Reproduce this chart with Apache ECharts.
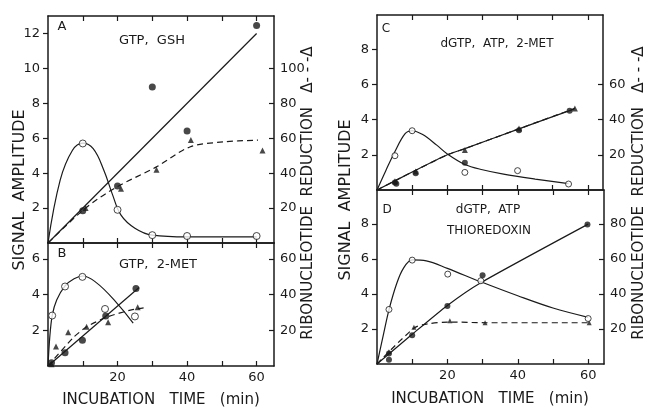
<!DOCTYPE html>
<html>
<head>
<meta charset="utf-8">
<script src="https://cdn.jsdelivr.net/npm/echarts@6/dist/echarts.min.js"></script>
<style>
html, body { margin: 0; padding: 0; background: #fff; }
#chart { width: 645px; height: 408px; }
</style>
</head>
<body>
<div id="chart"></div>
<script>
// panel A  (GTP, GSH)  - triangles / dashed are on the right axis
const aOpen = [[10, 5.7], [20, 1.9], [30, 0.45], [40, 0.4], [60, 0.4]]
const aOpenFit = [[0, 0], [3.5, 3.6], [7, 5.3], [10, 5.72], [13, 5.4], [16, 4.2], [18.5, 2.8], [21, 1.6], [25, 0.85], [30, 0.45], [40, 0.35], [60, 0.35]]
const aFilled = [[10, 1.85], [20, 3.27], [30, 8.93], [40, 6.42], [60, 12.46]]
const aLine = [[0, 0], [60, 12]]
const aTri = [[10.8, 20], [21, 31], [31.2, 42], [41.1, 59], [61.7, 53]]
const aDash = [[0, 0], [10.8, 20], [19.7, 32], [31.2, 43.6], [40.8, 55], [50.4, 57.9], [60.4, 58.9]]

// panel B  (GTP, 2-MET)
const bOpen = [[1.2, 2.83], [4.9, 4.46], [9.9, 5.0], [16.4, 3.2], [25, 2.78]]
const bOpenFit = [[0, 0], [0.5, 1.6], [1.2, 2.83], [2.5, 3.7], [4.9, 4.5], [7.5, 4.9], [10, 5.05], [24.5, 2.4]]
const bFilled = [[1, 0.18], [4.9, 0.74], [9.9, 1.44], [16.6, 2.8], [25.3, 4.35]]
const bLine = [[0, 0], [26.2, 4.4]]
const bTri = [[1, 1], [2.3, 11], [5.8, 19], [11.1, 22], [17.3, 24.6], [25.8, 33]]
const bDash = [[0, 0], [7.3, 16], [11.1, 22], [17, 27.5], [24, 31.5], [27.5, 32.6]]

// panel C  (dGTP, ATP, 2-MET)
const cOpen = [[5.1, 1.95], [10, 3.37], [25, 1.0], [40, 1.1], [54.5, 0.34]]
const cOpenFit = [[0, 0], [2.5, 1.1], [5, 2.15], [8, 3.2], [10, 3.37], [13, 3.15], [17, 2.55], [20, 2.05], [25, 1.45], [30, 1.15], [36, 0.9], [45, 0.62], [54.5, 0.36]]
const cFilled = [[5.1, 0.42], [5.5, 0.35], [11, 0.95], [25, 1.55], [40.4, 3.4], [54.8, 4.5]]
const cLine = [[0, 0], [10, 1.02], [20, 2.0], [25, 2.35], [40, 3.45], [56, 4.6]]
const cTri = [[5.1, 5], [11, 10.5], [25, 22.7], [40.4, 35], [56.3, 46.4]]
const cDash = [[0, 0], [10, 10.2], [20, 20], [25, 23.5], [40, 34.5], [56.3, 46.4]]

// panel D  (dGTP, ATP, THIOREDOXIN)
const dOpen = [[3.4, 3.12], [10, 5.94], [20.1, 5.14], [29.5, 4.76], [60, 2.6]]
const dOpenFit = [[0, 0], [1.9, 1.75], [3.4, 3.1], [5.6, 4.6], [7.5, 5.47], [10, 5.95], [14, 5.9], [20, 5.47], [29.5, 4.7], [40, 3.9], [50, 3.2], [60, 2.67]]
const dFilled = [[3.4, 0.25], [3.4, 0.6], [10, 1.65], [20, 3.31], [30, 5.08], [59.8, 7.98]]
const dLine = [[0, 0], [10, 1.7], [20, 3.35], [29.5, 4.65], [60, 8]]
const dTri = [[3.4, 7], [10.5, 21], [20.7, 24.8], [30.7, 23.6], [60.3, 23.6]]
const dDash = [[0, 0], [10.5, 20.5], [14, 22.8], [20.7, 24], [30.7, 23.6], [60.3, 23.6]]

// tick positions / labels
const xTicks = [10, 20, 30, 40, 50, 60]
const xLabels = [20, 40, 60]
const aLeftLabels = [2, 4, 6, 8, 10, 12]
const aRightLabels = [20, 40, 60, 80, 100]
const bLeftLabels = [2, 4, 6]
const bRightLabels = [20, 40, 60]
const cLeftLabels = [2, 4, 6, 8]
const cRightLabels = [20, 40, 60]
const dLeftLabels = [2, 4, 6, 8]
const dRightLabels = [20, 40, 60, 80]

const INK = '#1a1a1a'
const FONT = 'DejaVu Sans'

function xAx (grid, pos, max, labels) {
  return {
    type: 'value', gridIndex: grid, position: pos, min: 0, max: max,
    axisLine: { onZero: false, lineStyle: { color: INK, width: 1.5 } },
    axisTick: { inside: true, length: 5, customValues: xTicks, lineStyle: { color: INK, width: 1.2 } },
    axisLabel: { show: labels.length > 0, customValues: labels, margin: 5, color: INK, fontSize: 13, fontFamily: FONT },
    splitLine: { show: false }
  }
}

function yAx (grid, pos, max, labels) {
  const right = pos === 'right'
  return {
    type: 'value', gridIndex: grid, position: pos, min: 0, max: max,
    axisLine: { onZero: false, lineStyle: { color: INK, width: 1.5 } },
    axisTick: { inside: right, length: 5, customValues: labels, lineStyle: { color: INK, width: 1.2 } },
    axisLabel: { customValues: labels, margin: right ? 6 : 8, color: INK, fontSize: 13, fontFamily: FONT },
    splitLine: { show: false }
  }
}

function pts (data, sym, xi, yi, size) {
  return {
    type: 'scatter', xAxisIndex: xi, yAxisIndex: yi, data: data,
    symbol: sym === 'open' ? 'circle' : sym, symbolSize: size, z: 5,
    itemStyle: sym === 'open' ? { color: '#fff', borderColor: INK, borderWidth: 1 } : { color: INK }
  }
}

function fit (data, xi, yi, dashed, smooth) {
  return {
    type: 'line', xAxisIndex: xi, yAxisIndex: yi, data: data, showSymbol: false,
    smooth: smooth || 0, silent: true,
    lineStyle: { color: INK, width: 1.2, type: dashed ? [6, 4] : 'solid' }
  }
}

function txt (text, x, y, size, rot) {
  return {
    type: 'text', x: x, y: y, rotation: rot || 0,
    style: { text: text, fill: INK, font: size + 'px "' + FONT + '"', align: 'center', verticalAlign: 'middle' }
  }
}

const chart = echarts.init(document.getElementById('chart'))
chart.setOption({
  animation: false,
  backgroundColor: '#fff',
  grid: [
    { left: 48, top: 16, width: 226, height: 227 },
    { left: 48, top: 243, width: 226, height: 123 },
    { left: 377, top: 15, width: 226, height: 175 },
    { left: 377, top: 190, width: 227, height: 174 }
  ],
  xAxis: [
    xAx(0, 'bottom', 65, []), xAx(0, 'top', 65, []),
    xAx(1, 'bottom', 65, xLabels), xAx(1, 'top', 65, []),
    xAx(2, 'bottom', 64.3, []), xAx(2, 'top', 64.3, []),
    xAx(3, 'bottom', 64.5, xLabels), xAx(3, 'top', 64.5, [])
  ],
  yAxis: [
    yAx(0, 'left', 13, aLeftLabels), yAx(0, 'right', 130, aRightLabels),
    yAx(1, 'left', 6.9, bLeftLabels), yAx(1, 'right', 69, bRightLabels),
    yAx(2, 'left', 9.95, cLeftLabels), yAx(2, 'right', 99.5, cRightLabels),
    yAx(3, 'left', 9.95, dLeftLabels), yAx(3, 'right', 99.5, dRightLabels)
  ],
  series: [
    fit(aOpenFit, 0, 0, false, 0.4), fit(aLine, 0, 0), fit(aDash, 0, 1, true, 0.3),
    pts(aOpen, 'open', 0, 0, 7), pts(aFilled, 'circle', 0, 0, 7), pts(aTri, 'triangle', 0, 1, 6),

    fit(bOpenFit, 2, 2, false, 0.3), fit(bLine, 2, 2), fit(bDash, 2, 3, true, 0.2),
    pts(bOpen, 'open', 2, 2, 7), pts(bFilled, 'circle', 2, 2, 7), pts(bTri, 'triangle', 2, 3, 6),

    fit(cOpenFit, 4, 4, false, 0.35), fit(cLine, 4, 4, false, 0.2), fit(cDash, 4, 5, true, 0.2),
    pts(cOpen, 'open', 4, 4, 6), pts(cFilled, 'circle', 4, 4, 6), pts(cTri, 'triangle', 4, 5, 6),

    fit(dOpenFit, 6, 6, false, 0.35), fit(dLine, 6, 6, false, 0.2), fit(dDash, 6, 7, true, 0.3),
    pts(dOpen, 'open', 6, 6, 6), pts(dFilled, 'circle', 6, 6, 6), pts(dTri, 'triangle', 6, 7, 5)
  ],
  graphic: [
    txt('A', 62, 27, 13), txt('GTP,  GSH', 152, 41, 13),
    txt('B', 62, 254, 13), txt('GTP,  2-MET', 158, 265, 13),
    txt('C', 386, 29, 12), txt('dGTP,  ATP,  2-MET', 497, 44, 12),
    txt('D', 387, 210, 12), txt('dGTP,  ATP', 488, 210, 12), txt('THIOREDOXIN', 489, 231, 12),
    txt('SIGNAL  AMPLITUDE', 20, 190, 16, Math.PI / 2),
    txt('SIGNAL  AMPLITUDE', 346, 200, 16, Math.PI / 2),
    txt('RIBONUCLEOTIDE  REDUCTION   \u0394- - -\u0394', 308, 193, 15, Math.PI / 2),
    txt('RIBONUCLEOTIDE  REDUCTION   \u0394- - -\u0394', 639, 193, 15, Math.PI / 2),
    txt('INCUBATION   TIME   (min)', 161, 400, 15),
    txt('INCUBATION   TIME   (min)', 490, 399, 15)
  ]
})
</script>
</body>
</html>
